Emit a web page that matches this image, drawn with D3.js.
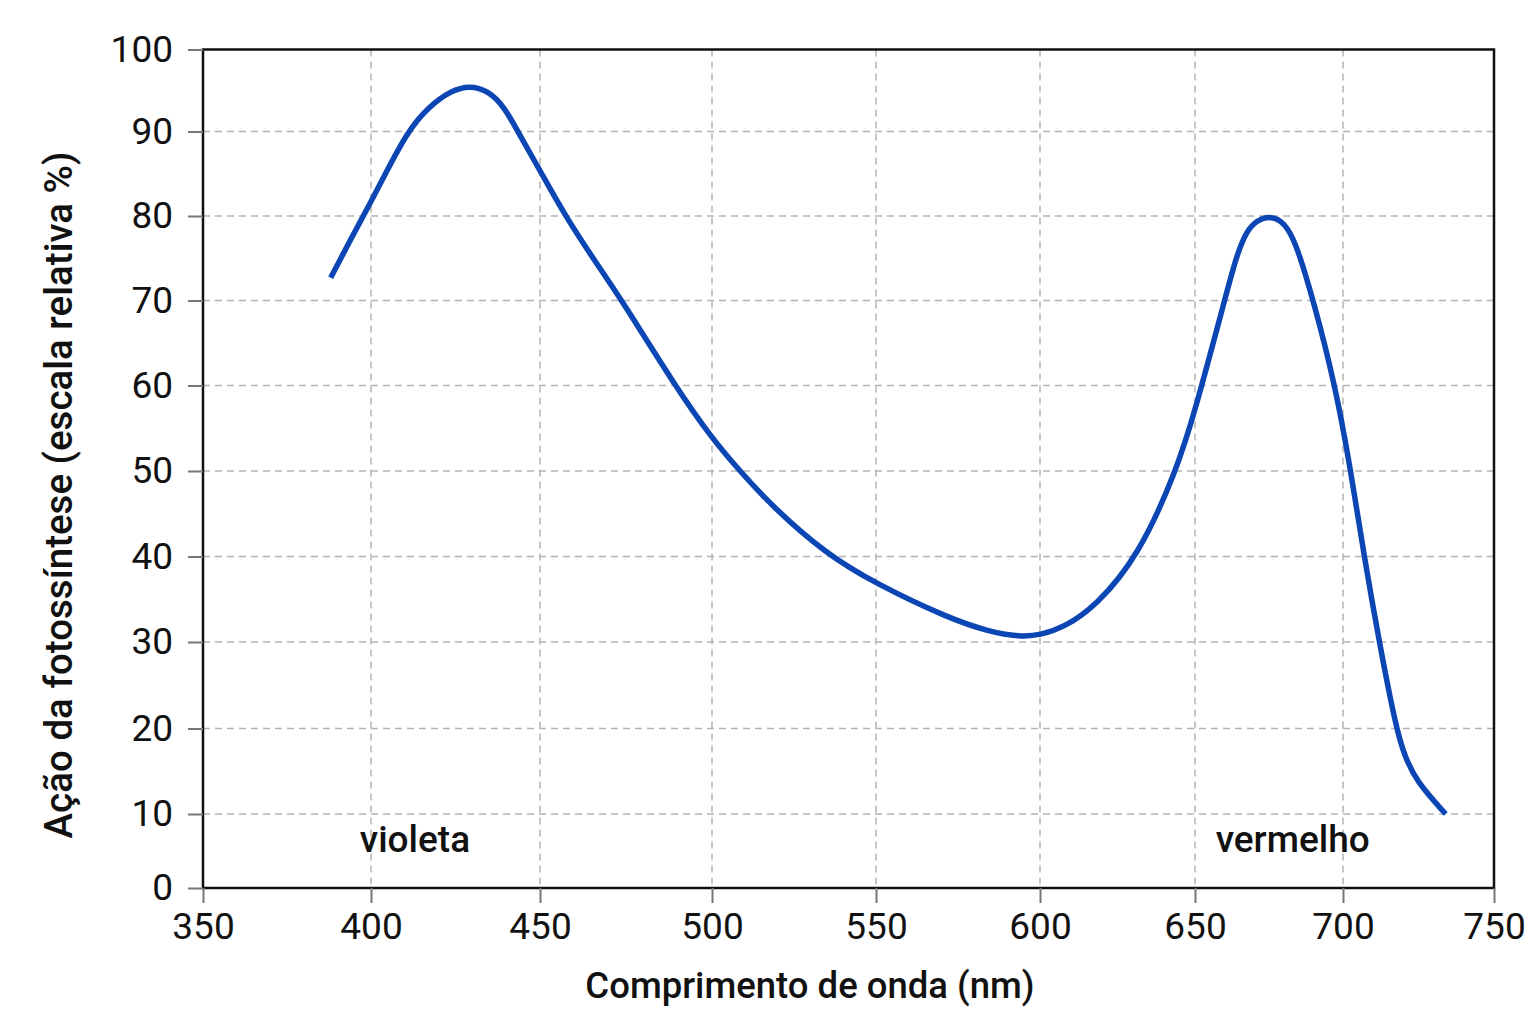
<!DOCTYPE html>
<html>
<head>
<meta charset="utf-8">
<script src="https://cdn.jsdelivr.net/npm/d3@7"></script>
<style>
  html, body { margin: 0; padding: 0; background: #fff; }
  svg { display: block; font-family: Roboto, "Noto Sans", sans-serif; }
</style>
</head>
<body>
<svg id="chart" width="1536" height="1024"></svg>
<script>
// --- Data ---
const wavelength = [388, 394.3, 400, 404, 410.8, 417, 423.7, 429.2, 434.6, 439.5, 443.4, 450, 457.3, 467.4, 473.8, 489.2, 500, 508.5, 518, 534.4, 550, 572, 584.5, 594, 600, 607.7, 618, 631.7, 644, 650, 660, 664, 667.5, 671, 675, 679, 682, 685, 690, 697.4, 702.6, 707, 712, 717.6, 720.4, 724.3, 734];
const action     = [72.7, 77.5, 81.7, 84.8, 90, 93.0, 95.0, 95.6, 95.0, 93.0, 90, 85.4, 80, 73.8, 70, 60, 53.8, 50, 46.0, 40.4, 36.8, 32.8, 31.2, 30.6, 30.8, 31.7, 34.2, 40, 50, 57, 70, 75.3, 78.3, 79.5, 80, 79.5, 78.2, 75.8, 70, 60, 50, 40, 30, 20, 16.8, 13.8, 10];

const xTicks = [350, 400, 450, 500, 550, 600, 650, 700, 750];
const yTicks = [0, 10, 20, 30, 40, 50, 60, 70, 80, 90, 100];

const bandLabels = ["violeta", "vermelho"];
const bandX = [413, 683];
const bandY = [4.9, 4.9];

const xTitle = "Comprimento de onda (nm)";
const yTitle = "Ação da fotossíntese (escala relativa %)";

// --- Layout ---
const svg = d3.select("#chart");
const plotL = 203, plotR = 1494, plotT = 49.5, plotB = 888;

// the reference grid is not evenly spaced, so both scales are piecewise
const x = d3.scaleLinear()
  .domain(xTicks)
  .range([203, 371, 540, 712, 876, 1040, 1195, 1343, 1494]);

const y = d3.scaleLinear()
  .domain(yTicks)
  .range([888, 814, 728.5, 642, 556.5, 471, 385.5, 300.5, 216, 131.5, 49.5]);

const gridColor = "#b4b4b4";

// Grid
svg.append("g")
  .selectAll("line")
  .data(yTicks.filter(d => d > 0 && d < 100))
  .join("line")
    .attr("x1", plotL).attr("x2", plotR)
    .attr("y1", d => y(d)).attr("y2", d => y(d))
    .attr("stroke", gridColor)
    .attr("stroke-width", 1.5)
    .attr("stroke-dasharray", "7,5");

svg.append("g")
  .selectAll("line")
  .data(xTicks.filter(d => d > 350 && d < 750))
  .join("line")
    .attr("x1", d => x(d)).attr("x2", d => x(d))
    .attr("y1", plotT).attr("y2", plotB)
    .attr("stroke", gridColor)
    .attr("stroke-width", 1.5)
    .attr("stroke-dasharray", "7,5");

// Frame
svg.append("rect")
  .attr("x", plotL).attr("y", plotT)
  .attr("width", plotR - plotL).attr("height", plotB - plotT)
  .attr("fill", "none")
  .attr("stroke", "#111")
  .attr("stroke-width", 2.5);

// Axes
svg.append("g")
  .attr("transform", `translate(0,${plotB})`)
  .call(d3.axisBottom(x).tickValues(xTicks).tickFormat(d3.format("d")).tickSize(15).tickPadding(10))
  .call(ax => ax.select(".domain").remove())
  .call(ax => ax.selectAll(".tick line").attr("stroke", "#777").attr("stroke-width", 2))
  .call(ax => ax.selectAll("text")
    .attr("font-size", 37)
    .attr("font-family", "Roboto, sans-serif")
    .attr("fill", "#111"));

svg.append("g")
  .attr("transform", `translate(${plotL},0)`)
  .call(d3.axisLeft(y).tickValues(yTicks).tickFormat(d3.format("d")).tickSize(15).tickPadding(15))
  .call(ax => ax.select(".domain").remove())
  .call(ax => ax.selectAll(".tick line").attr("stroke", "#777").attr("stroke-width", 2))
  .call(ax => ax.selectAll("text")
    .attr("font-size", 37)
    .attr("font-family", "Roboto, sans-serif")
    .attr("fill", "#111"));

// Curve (B-spline through the read points keeps it smooth)
const line = d3.line()
  .x((d, i) => x(wavelength[i]))
  .y(d => y(d))
  .curve(d3.curveBasis);

svg.append("path")
  .attr("d", line(action))
  .attr("fill", "none")
  .attr("stroke", "#0b46b4")
  .attr("stroke-width", 5.5)
  .attr("stroke-linejoin", "round");

// Band labels
svg.append("g")
  .selectAll("text")
  .data(bandLabels)
  .join("text")
    .attr("x", (d, i) => x(bandX[i]))
    .attr("y", (d, i) => y(bandY[i]))
    .attr("text-anchor", "middle")
    .attr("font-size", 37)
    .attr("font-weight", 500)
    .attr("fill", "#111")
    .text(d => d);

// Axis titles
svg.append("text")
  .attr("x", 810)
  .attr("y", 998)
  .attr("text-anchor", "middle")
  .attr("font-size", 36.5)
  .attr("font-weight", 500)
  .attr("fill", "#111")
  .text(xTitle);

svg.append("text")
  .attr("transform", "translate(72,495) rotate(-90)")
  .attr("text-anchor", "middle")
  .attr("font-size", 38.5)
  .attr("font-weight", 500)
  .attr("fill", "#111")
  .text(yTitle);
</script>
</body>
</html>
